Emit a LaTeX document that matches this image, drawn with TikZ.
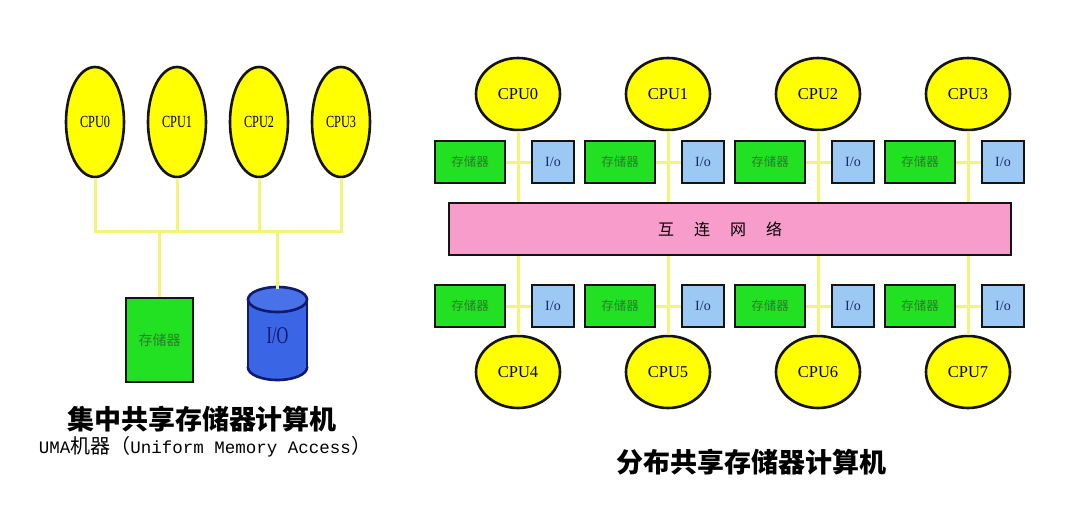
\documentclass[tikz,border=0pt]{standalone}
\usepackage{fontspec}
\setmainfont{Liberation Serif}
\newfontfamily\cjk{Noto Sans CJK SC}
\newfontfamily\monof{Liberation Mono}
\usetikzlibrary{shapes.geometric}
\definecolor{cpuyellow}{HTML}{FFFF00}
\definecolor{linky}{HTML}{F4F47A}
\definecolor{memgreen}{HTML}{22E022}
\definecolor{memtext}{HTML}{2A7E2A}
\definecolor{iofill}{HTML}{9CC8F4}
\definecolor{iotext}{HTML}{1A2A6A}
\definecolor{netpink}{HTML}{F79CCB}
\definecolor{cylblue}{HTML}{3A66E6}
\definecolor{cylline}{HTML}{101A70}
\definecolor{edge}{HTML}{141414}
\tikzset{
  cpuL/.style={ellipse, draw=edge, line width=2.6pt, fill=cpuyellow, minimum width=58, minimum height=110, inner sep=0pt,
    font=\fontsize{17}{19}\selectfont},
  cpuR/.style={ellipse, draw=edge, line width=2.6pt, fill=cpuyellow, minimum width=84, minimum height=72, inner sep=0pt,
    font=\fontsize{16.5}{18}\selectfont},
  membox/.style={rectangle, draw=edge, line width=2.6pt, fill=memgreen, minimum width=70, minimum height=42, inner sep=0pt,
    font=\cjk\fontsize{12.5}{14}\selectfont, text=memtext},
  iobox/.style={rectangle, draw=edge, line width=2.6pt, fill=iofill, minimum width=42, minimum height=42, inner sep=0pt,
    font=\fontsize{14}{16}\selectfont, text=iotext},
  link/.style={draw=linky, line width=3pt},
  title/.style={font=\cjk\bfseries\fontsize{27}{30}\selectfont, text=black},
}
\begin{document}
\begin{tikzpicture}[x=1pt,y=-1pt]
\useasboundingbox[fill=white] (0,0) rectangle (1080,520);

% ---------------- left: UMA ----------------
\foreach \i/\x in {0/95,1/177,2/259,3/341}{
  \node[cpuL] (L\i) at (\x,122) {\scalebox{0.72}[1]{CPU\i}};
}
\coordinate (busL) at (95,231);
\coordinate (busR) at (341,231);
\foreach \i in {0,...,3}{
  \draw[link] (L\i.south) -- (L\i.south |- busL);
}
\draw[link] ([xshift=-1.5pt]busL) -- ([xshift=1.5pt]busR);

\node[rectangle, draw=edge, line width=2.6pt, fill=memgreen, minimum width=67, minimum height=84, inner sep=0pt,
      font=\cjk\fontsize{14}{16}\selectfont, text=memtext] (memL) at (159.5,340) {存储器};
\draw[link] (memL.north) -- (memL.north |- busL);

% cylinder I/O
\fill[cylblue, draw=cylline, line width=2.6pt] (277.5,367.5) ellipse [x radius=29.5pt, y radius=12.5pt];
\fill[cylblue] (248,299.5) rectangle (307,367.5);
\draw[cylline, line width=2.6pt] (248,299.5) -- (248,367.5) (307,299.5) -- (307,367.5);
\fill[cylblue!92!white, draw=cylline, line width=2.6pt] (277.5,299.5) ellipse [x radius=29.5pt, y radius=12.5pt];
\node[minimum width=59, minimum height=93, inner sep=0pt, font=\fontsize{24}{26}\selectfont, text=cylline] (ioL) at (277.5,336) {\scalebox{0.68}[1]{I/O}};
\draw[link] (ioL.north) -- (ioL.north |- busL);

\node[title] (tL) at (202,419) {集中共享存储器计算机};
\node[font=\monof\fontsize{17.5}{19}\selectfont] (uma) at (205,447) {UMA{\cjk\fontsize{20}{22}\selectfont 机器（}Uniform Memory Access{\cjk\fontsize{20}{22}\selectfont ）}};

% ---------------- right: distributed ----------------
\node[rectangle, draw=edge, line width=2.6pt, fill=netpink, minimum width=562, minimum height=52, inner sep=0pt] (net) at (730,229) {};
\node[font=\cjk\fontsize{16}{18}\selectfont] (netlabel) at (720,229) {互\hspace{20pt}连\hspace{20pt}网\hspace{20pt}络};

\foreach \i/\x in {0/518,1/668,2/818,3/968}{
  \node[cpuR] (T\i) at (\x,94) {CPU\i};
  \node[membox] (TM\i) at (\x-48,162) {存储器};
  \node[iobox] (TI\i) at (\x+35,162) {I/o};
  \draw[link] (TM\i.east) -- (TI\i.west);
  \draw[link] (T\i.south) -- (T\i.south |- net.north);
}
\foreach \i/\x in {4/518,5/668,6/818,7/968}{
  \node[cpuR] (B\i) at (\x,372) {CPU\i};
  \node[membox] (BM\i) at (\x-48,306) {存储器};
  \node[iobox] (BI\i) at (\x+35,306) {I/o};
  \draw[link] (BM\i.east) -- (BI\i.west);
  \draw[link] (B\i.north) -- (B\i.north |- net.south);
}

\node[title] (tR) at (751,462) {分布共享存储器计算机};
\end{tikzpicture}
\end{document}
